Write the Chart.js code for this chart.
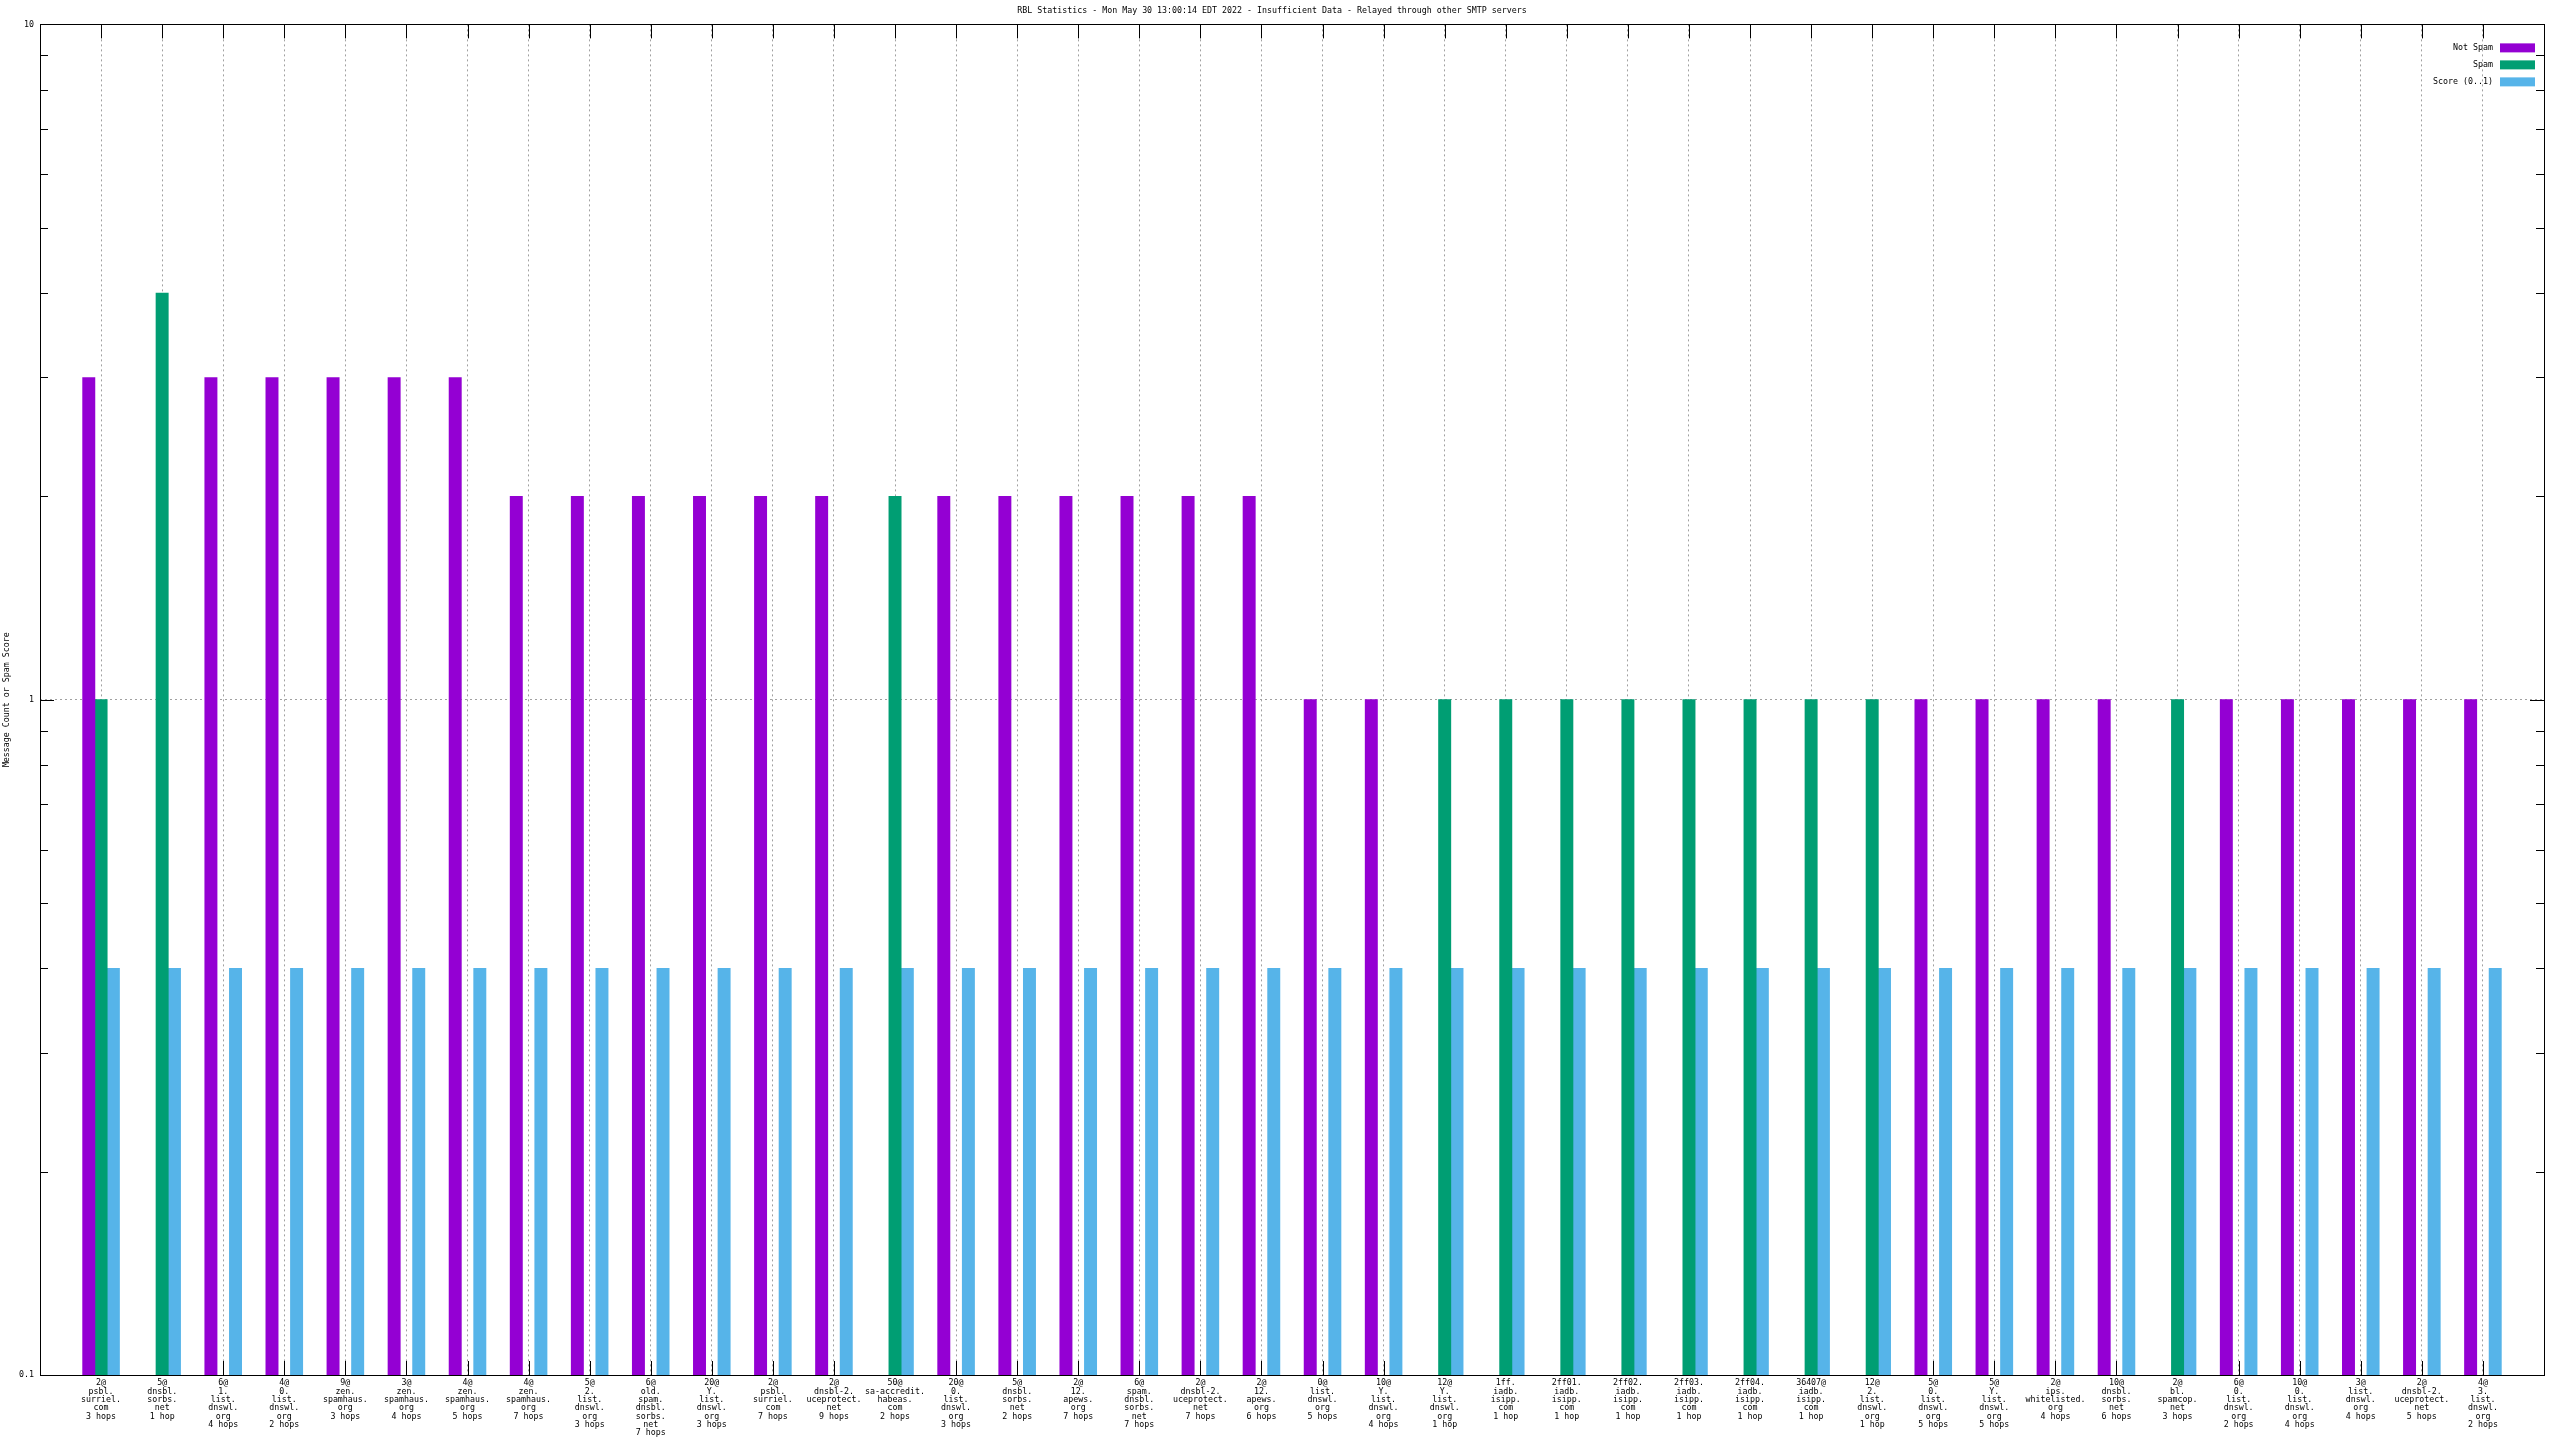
<!DOCTYPE html>
<html>
<head>
<meta charset="utf-8">
<title>RBL Statistics</title>
<script src="https://cdn.jsdelivr.net/npm/chart.js@4/dist/chart.umd.min.js"></script>
<style>
  body { margin: 0; background: #fff; }
  #wrap { width: 2560px; height: 1440px; }
</style>
</head>
<body>
<div id="wrap"><canvas id="rblChart"></canvas></div>
<script>
const titleText = 'RBL Statistics - Mon May 30 13:00:14 EDT 2022 - Insufficient Data - Relayed through other SMTP servers'

const categories = [
    ['2@', 'psbl.', 'surriel.', 'com', '3 hops'],
    ['5@', 'dnsbl.', 'sorbs.', 'net', '1 hop'],
    ['6@', '1.', 'list.', 'dnswl.', 'org', '4 hops'],
    ['4@', '0.', 'list.', 'dnswl.', 'org', '2 hops'],
    ['9@', 'zen.', 'spamhaus.', 'org', '3 hops'],
    ['3@', 'zen.', 'spamhaus.', 'org', '4 hops'],
    ['4@', 'zen.', 'spamhaus.', 'org', '5 hops'],
    ['4@', 'zen.', 'spamhaus.', 'org', '7 hops'],
    ['5@', '2.', 'list.', 'dnswl.', 'org', '3 hops'],
    ['6@', 'old.', 'spam.', 'dnsbl.', 'sorbs.', 'net', '7 hops'],
    ['20@', 'Y.', 'list.', 'dnswl.', 'org', '3 hops'],
    ['2@', 'psbl.', 'surriel.', 'com', '7 hops'],
    ['2@', 'dnsbl-2.', 'uceprotect.', 'net', '9 hops'],
    ['50@', 'sa-accredit.', 'habeas.', 'com', '2 hops'],
    ['20@', '0.', 'list.', 'dnswl.', 'org', '3 hops'],
    ['5@', 'dnsbl.', 'sorbs.', 'net', '2 hops'],
    ['2@', '12.', 'apews.', 'org', '7 hops'],
    ['6@', 'spam.', 'dnsbl.', 'sorbs.', 'net', '7 hops'],
    ['2@', 'dnsbl-2.', 'uceprotect.', 'net', '7 hops'],
    ['2@', '12.', 'apews.', 'org', '6 hops'],
    ['0@', 'list.', 'dnswl.', 'org', '5 hops'],
    ['10@', 'Y.', 'list.', 'dnswl.', 'org', '4 hops'],
    ['12@', 'Y.', 'list.', 'dnswl.', 'org', '1 hop'],
    ['1ff.', 'iadb.', 'isipp.', 'com', '1 hop'],
    ['2ff01.', 'iadb.', 'isipp.', 'com', '1 hop'],
    ['2ff02.', 'iadb.', 'isipp.', 'com', '1 hop'],
    ['2ff03.', 'iadb.', 'isipp.', 'com', '1 hop'],
    ['2ff04.', 'iadb.', 'isipp.', 'com', '1 hop'],
    ['36407@', 'iadb.', 'isipp.', 'com', '1 hop'],
    ['12@', '2.', 'list.', 'dnswl.', 'org', '1 hop'],
    ['5@', '0.', 'list.', 'dnswl.', 'org', '5 hops'],
    ['5@', 'Y.', 'list.', 'dnswl.', 'org', '5 hops'],
    ['2@', 'ips.', 'whitelisted.', 'org', '4 hops'],
    ['10@', 'dnsbl.', 'sorbs.', 'net', '6 hops'],
    ['2@', 'bl.', 'spamcop.', 'net', '3 hops'],
    ['6@', '0.', 'list.', 'dnswl.', 'org', '2 hops'],
    ['10@', '0.', 'list.', 'dnswl.', 'org', '4 hops'],
    ['3@', 'list.', 'dnswl.', 'org', '4 hops'],
    ['2@', 'dnsbl-2.', 'uceprotect.', 'net', '5 hops'],
    ['4@', '3.', 'list.', 'dnswl.', 'org', '2 hops'],
]

// null = no bar in that slot
const notSpam = [3, null, 3, 3, 3, 3, 3, 2, 2, 2,
                 2, 2, 2, null, 2, 2, 2, 2, 2, 2,
                 1, 1, null, null, null, null, null, null, null, null,
                 1, 1, 1, 1, null, 1, 1, 1, 1, 1]
const spam = [1, 4, null, null, null, null, null, null, null, null,
              null, null, null, 2, null, null, null, null, null, null,
              null, null, 1, 1, 1, 1, 1, 1, 1, 1,
              null, null, null, null, 1, null, null, null, null, null]
const score = [0.4, 0.4, 0.4, 0.4, 0.4, 0.4, 0.4, 0.4, 0.4, 0.4,
               0.4, 0.4, 0.4, 0.4, 0.4, 0.4, 0.4, 0.4, 0.4, 0.4,
               0.4, 0.4, 0.4, 0.4, 0.4, 0.4, 0.4, 0.4, 0.4, 0.4,
               0.4, 0.4, 0.4, 0.4, 0.4, 0.4, 0.4, 0.4, 0.4, 0.4]

const yMajor = [0.1, 1, 10]
const yMinor = [0.2, 0.3, 0.4, 0.5, 0.6, 0.7, 0.8, 0.9, 2, 3, 4, 5, 6, 7, 8, 9]

const FONT = 'DejaVu Sans Mono'
const toPoints = arr => arr.map((v, i) => ({x: i, y: v}))

// gnuplot style frame: inward tics on all four sides, box border, legend top right
const gnuFrame = {
    id: 'gnuFrame',
    beforeDatasetsDraw(chart) {
        const {ctx, chartArea: a, scales: {x, y}} = chart
        ctx.save()
        ctx.strokeStyle = '#000'
        ctx.lineWidth = 1
        ctx.beginPath()
        x.ticks.forEach(t => {
            const px = Math.round(x.getPixelForValue(t.value)) + 0.5
            ctx.moveTo(px, a.bottom); ctx.lineTo(px, a.bottom - 14)
            ctx.moveTo(px, a.top); ctx.lineTo(px, a.top + 14)
        })
        const ytic = (v, len) => {
            const py = Math.round(y.getPixelForValue(v)) + 0.5
            ctx.moveTo(a.left, py); ctx.lineTo(a.left + len, py)
            ctx.moveTo(a.right, py); ctx.lineTo(a.right - len, py)
        }
        yMajor.forEach(v => ytic(v, 14))
        yMinor.forEach(v => ytic(v, 8))
        ctx.stroke()
        ctx.restore()
    },
    afterDraw(chart) {
        const {ctx, chartArea: a} = chart
        ctx.save()
        ctx.strokeStyle = '#000'
        ctx.lineWidth = 1
        ctx.strokeRect(Math.round(a.left) + 0.5, Math.round(a.top) + 0.5,
            Math.round(a.right - a.left), Math.round(a.bottom - a.top))

        ctx.font = `8.3px "${FONT}"`
        ctx.textAlign = 'right'
        ctx.textBaseline = 'middle'
        chart.data.datasets.forEach((ds, i) => {
            const cy = a.top + 23.5 + i * 17
            ctx.fillStyle = '#000'
            ctx.fillText(ds.label, a.right - 51, cy)
            ctx.fillStyle = ds.backgroundColor
            ctx.fillRect(a.right - 44, cy - 4.5, 35, 9)
        })
        ctx.restore()
    }
}

const ctx = document.getElementById('rblChart')

const config = {
    type: 'bar',
    data: {
        datasets: [
            {
                label: 'Not Spam',
                backgroundColor: '#9400d3',
                data: toPoints(notSpam),
            },
            {
                label: 'Spam',
                backgroundColor: '#009e73',
                data: toPoints(spam),
            },
            {
                label: 'Score (0..1)',
                backgroundColor: '#56b4e9',
                data: toPoints(score),
            },
        ],
    },
    options: {
        responsive: true,
        maintainAspectRatio: false,
        animation: false,
        layout: {
            padding: {left: 0, right: 16, top: 0, bottom: 0}
        },
        datasets: {
            bar: {
                barThickness: 12.3,
                borderWidth: 0,
                grouped: true,
            }
        },
        scales: {
            x: {
                type: 'linear',
                min: -1,
                max: 40,
                offset: false,
                afterBuildTicks(scale) {
                    scale.ticks = categories.map((c, i) => ({value: i}))
                },
                afterFit(scale) {
                    scale.height = 65
                },
                grid: {
                    offset: false,
                    color: '#a0a0a0',
                    lineWidth: 1,
                    drawTicks: false,
                },
                border: {display: false, dash: [2, 3]},
                ticks: {
                    autoSkip: false,
                    maxRotation: 0,
                    minRotation: 0,
                    padding: 4,
                    color: '#000',
                    font: {family: FONT, size: 8.3, lineHeight: 1.0},
                    callback(value) {
                        return categories[value]
                    },
                },
            },
            y: {
                type: 'logarithmic',
                min: 0.1,
                max: 10,
                afterBuildTicks(scale) {
                    scale.ticks = yMajor.map(v => ({value: v}))
                },
                afterFit(scale) {
                    scale.width = 40
                },
                grid: {
                    color: '#a0a0a0',
                    lineWidth: 1,
                    drawTicks: false,
                },
                border: {display: false, dash: [2, 3]},
                ticks: {
                    padding: 6,
                    color: '#000',
                    font: {family: FONT, size: 8.3},
                    callback(value) {
                        return String(value)
                    },
                },
                title: {
                    display: true,
                    text: 'Message Count or Spam Score',
                    color: '#000',
                    padding: {top: 3, bottom: 0},
                    font: {family: FONT, size: 8.3, lineHeight: 1.0},
                },
            },
        },
        plugins: {
            legend: {display: false},
            tooltip: {enabled: false},
            title: {
                display: true,
                text: titleText,
                color: '#000',
                padding: {top: 6, bottom: 8},
                font: {family: FONT, size: 8.3, weight: 'normal', lineHeight: 1.25},
            },
        },
    },
    plugins: [gnuFrame],
}

const chart1 = new Chart(ctx, config)
</script>
</body>
</html>
